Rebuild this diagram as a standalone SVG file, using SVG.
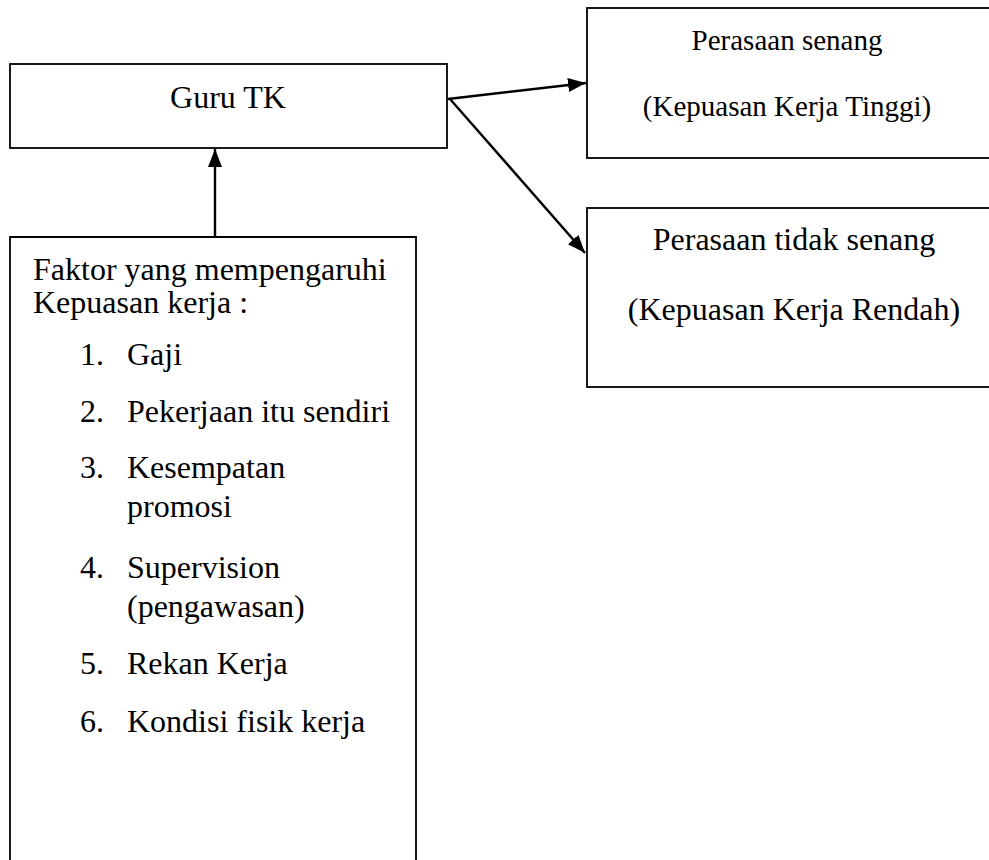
<svg xmlns="http://www.w3.org/2000/svg" width="989" height="860" viewBox="0 0 989 860">
<style>
.box{fill:#fff;stroke:#000;stroke-width:1.8}
.t{font-family:"Liberation Serif","Times New Roman",serif;font-size:32px;fill:#000}
.ts{font-family:"Liberation Serif","Times New Roman",serif;font-size:29px;fill:#000}
.c{text-anchor:middle}
.conn{stroke:#000;stroke-width:2.4;fill:none;marker-end:url(#ah)}
</style>
<defs>
<marker id="ah" viewBox="0 0 18 14" refX="18" refY="7" markerWidth="18" markerHeight="14" markerUnits="userSpaceOnUse" orient="auto">
<path d="M0,0 L18,7 L0,14 Z" fill="#000"/>
</marker>
</defs>
<g id="guru">
<rect class="box" x="10" y="64" width="437" height="84"/>
<text class="t c" x="228" y="108">Guru TK</text>
</g>
<g id="senang">
<rect class="box" x="587" y="8" width="410" height="150"/>
<text class="ts c" x="787" y="50">Perasaan senang</text>
<text class="ts c" x="787" y="116">(Kepuasan Kerja Tinggi)</text>
</g>
<g id="tidak-senang">
<rect class="box" x="587" y="208" width="410" height="179"/>
<text class="t c" x="794" y="250">Perasaan tidak senang</text>
<text class="t c" x="794" y="320">(Kepuasan Kerja Rendah)</text>
</g>
<g id="faktor">
<path class="box" d="M10,870 L10,237 L416,237 L416,870"/>
<text class="t" x="33" y="280">Faktor yang mempengaruhi</text>
<text class="t" x="33" y="313">Kepuasan kerja :</text>
<text class="t" x="80" y="365">1.</text><text class="t" x="127" y="365">Gaji</text>
<text class="t" x="80" y="422">2.</text><text class="t" x="127" y="422">Pekerjaan itu sendiri</text>
<text class="t" x="80" y="478">3.</text><text class="t" x="127" y="478">Kesempatan</text>
<text class="t" x="127" y="517">promosi</text>
<text class="t" x="80" y="578">4.</text><text class="t" x="127" y="578">Supervision</text>
<text class="t" x="127" y="617">(pengawasan)</text>
<text class="t" x="80" y="674">5.</text><text class="t" x="127" y="674">Rekan Kerja</text>
<text class="t" x="80" y="732">6.</text><text class="t" x="127" y="732">Kondisi fisik kerja</text>
</g>
<g id="connectors">
<line class="conn" x1="215" y1="237" x2="215" y2="149"/>
<line class="conn" x1="448" y1="99" x2="586" y2="83"/>
<line class="conn" x1="450" y1="99" x2="585" y2="253"/>
</g>
</svg>
